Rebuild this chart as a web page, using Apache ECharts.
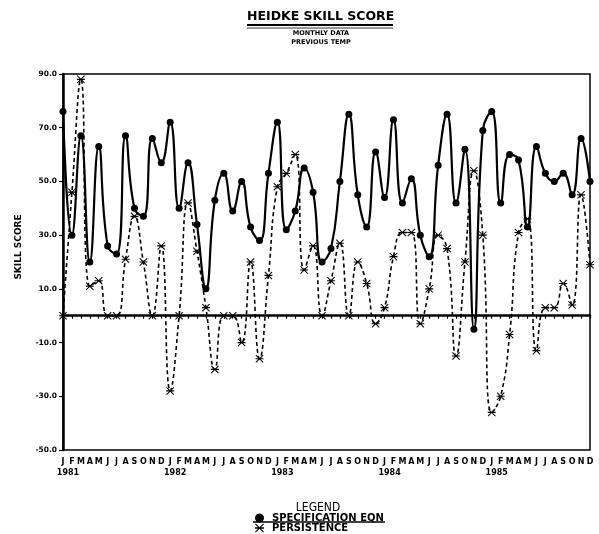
<!DOCTYPE html>
<html>
<head>
<meta charset="utf-8">
<script src="https://cdn.jsdelivr.net/npm/echarts@6/dist/echarts.min.js"></script>
<style>
  html, body { margin: 0; padding: 0; background: #fff; }
  #chart { width: 599px; height: 534px; }
</style>
</head>
<body>
<div id="chart"></div>
<script>
// Month initials along the time axis and the years they belong to
const monthLetters = ['J', 'F', 'M', 'A', 'M', 'J', 'J', 'A', 'S', 'O', 'N', 'D'];
const years = [1981, 1982, 1983, 1984, 1985];

// Skill-score axis tick values
const yTicks = [-50, -30, -10, 10, 30, 50, 70, 90];

// Monthly Heidke skill scores, Jan 1981 .. Dec 1985
const specificationEqn = [
  76, 30, 67, 20, 63, 26, 23, 67, 40, 37, 66, 57,
  72, 40, 57, 34, 10, 43, 53, 39, 50, 33, 28, 53,
  72, 32, 39, 55, 46, 20, 25, 50, 75, 45, 33, 61,
  44, 73, 42, 51, 30, 22, 56, 75, 42, 62, -5, 69,
  76, 42, 60, 58, 33, 63, 53, 50, 53, 45, 66, 50
];
const persistence = [
  0, 46, 88, 11, 13, 0, 0, 21, 37, 20, 0, 26,
  -28, 0, 42, 24, 3, -20, 0, 0, -10, 20, -16, 15,
  48, 53, 60, 17, 26, 0, 13, 27, 0, 20, 12, -3,
  3, 22, 31, 31, -3, 10, 30, 25, -15, 20, 54, 30,
  -36, -30, -7, 31, 36, -13, 3, 3, 12, 4, 45, 19
];

// One category per month
const categories = [];
years.forEach(y => monthLetters.forEach((m, i) => categories.push(y + '-' + (i + 1))));

// Asterisk-like marker: an X crossed by a horizontal bar
const asterisk = 'path://M0,4.3L10,4.3L10,5.7L0,5.7Z' +
  'M0.9,0L10,9.1L9.1,10L0,0.9Z' +
  'M9.1,0L10,0.9L0.9,10L0,9.1Z';

const FONT = '"DejaVu Sans", "Liberation Sans", sans-serif';

const chart = echarts.init(document.getElementById('chart'), null, { renderer: 'canvas' });

chart.setOption({
  animation: false,
  backgroundColor: '#fff',
  grid: {
    left: 63, right: 9, top: 74, bottom: 84,
    show: true, borderColor: '#000', borderWidth: 1.5, backgroundColor: 'transparent'
  },
  xAxis: {
    type: 'category',
    data: categories,
    boundaryGap: false,
    axisLine: { lineStyle: { color: '#000', width: 2.5 } },
    axisTick: { interval: 0, length: 3, lineStyle: { color: '#000', width: 1.2 } },
    axisLabel: {
      interval: 0,
      margin: 6,
      color: '#000',
      fontFamily: FONT,
      fontWeight: 'bold',
      fontSize: 8,
      lineHeight: 11,
      formatter: (value, index) => {
        const m = monthLetters[index % 12];
        return index % 12 === 0 ? m + '\n{yr|' + years[Math.floor(index / 12)] + '}' : m;
      },
      rich: {
        yr: {
          fontFamily: FONT, fontWeight: 'bold', fontSize: 8, color: '#000',
          lineHeight: 11, padding: [0, 0, 0, 10]
        }
      }
    },
    splitLine: { show: false }
  },
  yAxis: {
    type: 'value',
    min: -50,
    max: 90,
    axisLine: { show: true, lineStyle: { color: '#000', width: 2.5 } },
    axisTick: { show: true, length: 4, customValues: yTicks, lineStyle: { color: '#000', width: 1.2 } },
    axisLabel: {
      customValues: yTicks,
      margin: 6,
      color: '#000',
      fontFamily: FONT,
      fontWeight: 'bold',
      fontSize: 7.5,
      formatter: v => v.toFixed(1)
    },
    splitLine: { show: false }
  },
  legend: {
    orient: 'vertical',
    left: 255,
    top: 513,
    itemGap: 0,
    itemWidth: 9,
    itemHeight: 9,
    padding: 0,
    textStyle: { color: '#000', fontFamily: FONT, fontWeight: 'bold', fontSize: 10, padding: [0, 0, 0, 3] },
    data: [
      { name: 'SPECIFICATION EQN', icon: 'circle' },
      { name: 'PERSISTENCE', icon: asterisk }
    ]
  },
  graphic: [
    {
      type: 'text', left: 320 - 73, top: 10,
      style: { text: 'HEIDKE SKILL SCORE', fill: '#000', font: 'bold 12.5px ' + FONT }
    },
    { type: 'line', shape: { x1: 247, y1: 25, x2: 393, y2: 25 }, style: { stroke: '#000', lineWidth: 2 } },
    { type: 'line', shape: { x1: 247, y1: 28, x2: 393, y2: 28 }, style: { stroke: '#000', lineWidth: 0.8 } },
    {
      type: 'text', x: 321, y: 33,
      style: { text: 'MONTHLY DATA', fill: '#000', font: 'bold 6.5px ' + FONT, align: 'center', verticalAlign: 'middle' }
    },
    {
      type: 'text', x: 321, y: 42,
      style: { text: 'PREVIOUS TEMP', fill: '#000', font: 'bold 6.5px ' + FONT, align: 'center', verticalAlign: 'middle' }
    },
    {
      type: 'text', x: 19, y: 247, rotation: Math.PI / 2,
      style: { text: 'SKILL SCORE', fill: '#000', font: 'bold 9px ' + FONT, align: 'center', verticalAlign: 'middle' }
    },
    {
      type: 'text', x: 318, y: 508,
      style: { text: 'LEGEND', fill: '#000', font: '12px "DejaVu Sans Condensed", ' + FONT, align: 'center', verticalAlign: 'middle' }
    },
    { type: 'line', shape: { x1: 253, y1: 522, x2: 385, y2: 522 }, style: { stroke: '#000', lineWidth: 1.5 } }
  ],
  series: [
    {
      name: 'SPECIFICATION EQN',
      type: 'line',
      data: specificationEqn,
      smooth: 0.5,
      symbol: 'circle',
      symbolSize: 7,
      showAllSymbol: true,
      itemStyle: { color: '#000' },
      lineStyle: { color: '#000', width: 2.2 },
      z: 3
    },
    {
      name: 'PERSISTENCE',
      type: 'line',
      data: persistence,
      smooth: 0.5,
      symbol: asterisk,
      symbolSize: 8,
      showAllSymbol: true,
      itemStyle: { color: '#000' },
      lineStyle: { color: '#000', width: 1.6, type: [4, 3] },
      markLine: {
        silent: true,
        symbol: 'none',
        label: { show: false },
        lineStyle: { color: '#000', width: 1.2, type: 'solid' },
        data: [{ yAxis: 0 }]
      },
      z: 2
    }
  ]
});
</script>
</body>
</html>
